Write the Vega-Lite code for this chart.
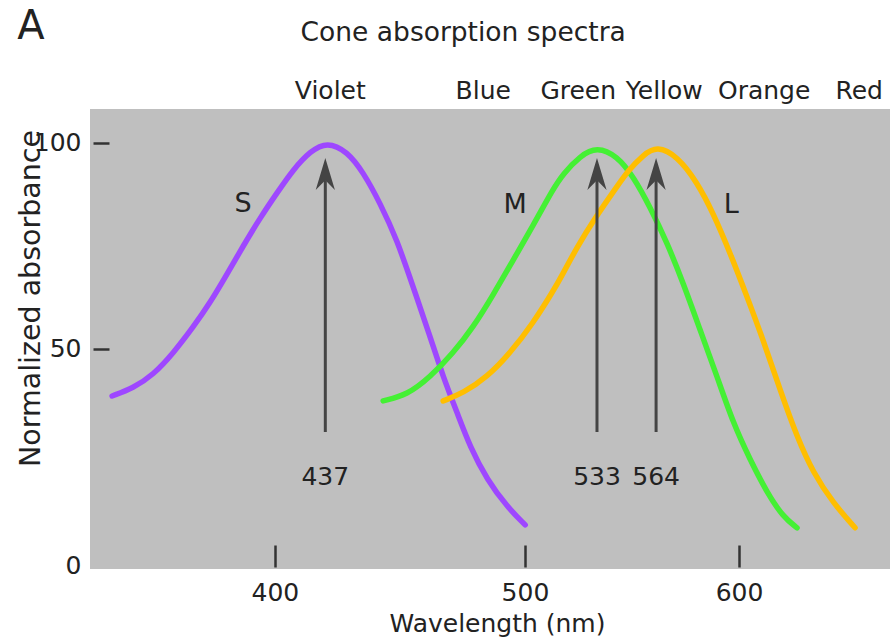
{
  "$schema": "https://vega.github.io/schema/vega-lite/v6.json",
  "width": 800,
  "height": 460,
  "autosize": {"type": "none"},
  "padding": {"left": 90, "top": 109, "right": 0, "bottom": 72},
  "background": "white",
  "config": {
    "font": "DejaVu Sans",
    "view": {"fill": "#bfbfbf", "stroke": null}
  },
  "datasets": {
    "curves": [
      {"cone": "S", "wl": 343.7, "abs": 38.6},
      {"cone": "S", "wl": 350.6, "abs": 40.5},
      {"cone": "S", "wl": 357.3, "abs": 43.7},
      {"cone": "S", "wl": 364.1, "abs": 49.0},
      {"cone": "S", "wl": 370.9, "abs": 55.3},
      {"cone": "S", "wl": 376.8, "abs": 61.2},
      {"cone": "S", "wl": 382.8, "abs": 68.2},
      {"cone": "S", "wl": 388.5, "abs": 75.0},
      {"cone": "S", "wl": 394.6, "abs": 81.8},
      {"cone": "S", "wl": 400.9, "abs": 88.0},
      {"cone": "S", "wl": 406.7, "abs": 93.5},
      {"cone": "S", "wl": 413.1, "abs": 98.0},
      {"cone": "S", "wl": 419.5, "abs": 100.3},
      {"cone": "S", "wl": 427.1, "abs": 98.0},
      {"cone": "S", "wl": 433.4, "abs": 92.9},
      {"cone": "S", "wl": 440.0, "abs": 85.4},
      {"cone": "S", "wl": 446.7, "abs": 76.5},
      {"cone": "S", "wl": 453.2, "abs": 65.0},
      {"cone": "S", "wl": 460.1, "abs": 52.9},
      {"cone": "S", "wl": 465.4, "abs": 43.2},
      {"cone": "S", "wl": 471.2, "abs": 34.5},
      {"cone": "S", "wl": 476.6, "abs": 26.2},
      {"cone": "S", "wl": 483.8, "abs": 18.2},
      {"cone": "S", "wl": 492.3, "abs": 11.7},
      {"cone": "S", "wl": 500.1, "abs": 7.3},
      {"cone": "M", "wl": 441.2, "abs": 37.4},
      {"cone": "M", "wl": 450.7, "abs": 38.8},
      {"cone": "M", "wl": 460.1, "abs": 43.2},
      {"cone": "M", "wl": 469.5, "abs": 49.0},
      {"cone": "M", "wl": 477.9, "abs": 55.3},
      {"cone": "M", "wl": 486.3, "abs": 63.1},
      {"cone": "M", "wl": 494.9, "abs": 71.6},
      {"cone": "M", "wl": 503.6, "abs": 80.0},
      {"cone": "M", "wl": 512.3, "abs": 88.8},
      {"cone": "M", "wl": 516.8, "abs": 92.5},
      {"cone": "M", "wl": 524.5, "abs": 96.9},
      {"cone": "M", "wl": 532.1, "abs": 99.1},
      {"cone": "M", "wl": 541.4, "abs": 96.8},
      {"cone": "M", "wl": 548.8, "abs": 91.9},
      {"cone": "M", "wl": 556.7, "abs": 84.5},
      {"cone": "M", "wl": 564.9, "abs": 75.7},
      {"cone": "M", "wl": 572.6, "abs": 66.0},
      {"cone": "M", "wl": 580.8, "abs": 54.6},
      {"cone": "M", "wl": 589.2, "abs": 43.2},
      {"cone": "M", "wl": 597.1, "abs": 32.0},
      {"cone": "M", "wl": 605.6, "abs": 23.1},
      {"cone": "M", "wl": 614.3, "abs": 15.0},
      {"cone": "M", "wl": 622.5, "abs": 9.2},
      {"cone": "M", "wl": 629.6, "abs": 6.6},
      {"cone": "L", "wl": 465.4, "abs": 37.4},
      {"cone": "L", "wl": 473.7, "abs": 39.3},
      {"cone": "L", "wl": 483.8, "abs": 43.2},
      {"cone": "L", "wl": 493.6, "abs": 49.0},
      {"cone": "L", "wl": 503.6, "abs": 56.3},
      {"cone": "L", "wl": 512.3, "abs": 64.0},
      {"cone": "L", "wl": 515.5, "abs": 67.0},
      {"cone": "L", "wl": 523.1, "abs": 74.8},
      {"cone": "L", "wl": 531.2, "abs": 81.8},
      {"cone": "L", "wl": 541.4, "abs": 89.5},
      {"cone": "L", "wl": 546.5, "abs": 93.3},
      {"cone": "L", "wl": 553.5, "abs": 97.1},
      {"cone": "L", "wl": 560.1, "abs": 99.3},
      {"cone": "L", "wl": 569.7, "abs": 96.8},
      {"cone": "L", "wl": 579.3, "abs": 90.5},
      {"cone": "L", "wl": 587.2, "abs": 83.0},
      {"cone": "L", "wl": 595.6, "abs": 73.3},
      {"cone": "L", "wl": 604.1, "abs": 62.6},
      {"cone": "L", "wl": 612.2, "abs": 52.2},
      {"cone": "L", "wl": 620.9, "abs": 40.0},
      {"cone": "L", "wl": 629.6, "abs": 28.6},
      {"cone": "L", "wl": 638.1, "abs": 19.9},
      {"cone": "L", "wl": 648.6, "abs": 12.6},
      {"cone": "L", "wl": 660.3, "abs": 6.6}
    ],
    "peaks": [
      {"cone": "S", "wl": 418.8, "label": "437"},
      {"cone": "M", "wl": 532.1, "label": "533"},
      {"cone": "L", "wl": 559.6, "label": "564"}
    ],
    "coneLabels": [
      {"cone": "S", "wl": 388.5, "abs": 85.2},
      {"cone": "M", "wl": 495.8, "abs": 85.0},
      {"cone": "L", "wl": 596.1, "abs": 85.0}
    ],
    "bands": [
      {"name": "Violet", "wl": 420.7},
      {"name": "Blue", "wl": 482.1},
      {"name": "Green", "wl": 523.6},
      {"name": "Yellow", "wl": 563.5},
      {"name": "Orange", "wl": 612.7},
      {"name": "Red", "wl": 662.5}
    ],
    "headings": [
      {"text": "A", "wl": 318.0, "abs": 128.2, "kind": "panel"},
      {"text": "Cone absorption spectra", "wl": 473.7, "abs": 126.7, "kind": "title"}
    ]
  },
  "layer": [
    {
      "data": {"name": "curves"},
      "mark": {"type": "line", "strokeWidth": 5.5, "strokeCap": "round", "strokeJoin": "round", "interpolate": "basis"},
      "encoding": {
        "x": {
          "field": "wl",
          "type": "quantitative",
          "scale": {"type": "pow", "exponent": 0.23, "domain": [336.56, 679.33], "nice": false, "zero": false},
          "axis": {
            "values": [400, 500, 600],
            "title": "Wavelength (nm)",
            "titleFontSize": 25,
            "titleFontWeight": "normal",
            "titleColor": "#222222",
            "titleX": 407,
            "titleY": 64,
            "titleBaseline": "alphabetic",
            "titleAlign": "center",
            "titleAnchor": null,
            "domain": false,
            "grid": false,
            "offset": -2,
            "tickSize": -22,
            "tickWidth": 2.5,
            "tickColor": "#333333",
            "labelFontSize": 25,
            "labelColor": "#222222",
            "labelPadding": 55,
            "labelBaseline": "alphabetic"
          }
        },
        "y": {
          "field": "abs",
          "type": "quantitative",
          "scale": {"domain": [-3.4, 108.25], "nice": false, "zero": false},
          "axis": {
            "values": [0, 50, 100],
            "title": "Normalized absorbance",
            "titleFontSize": 28.5,
            "titleFontWeight": "normal",
            "titleColor": "#222222",
            "titleAngle": -90,
            "titleX": -54,
            "titleY": 189,
            "titleAlign": "center",
            "titleBaseline": "alphabetic",
            "titleAnchor": null,
            "domain": false,
            "grid": false,
            "offset": -3,
            "tickSize": -16,
            "tickWidth": 2.5,
            "tickColor": "#333333",
            "tickOpacity": {"condition": {"test": "datum.value === 0", "value": 0}, "value": 1},
            "labelOffset": {"condition": {"test": "datum.value === 0", "value": 11}, "value": 0},
            "labelFontSize": 25,
            "labelColor": "#222222",
            "labelPadding": 28
          }
        },
        "color": {
          "field": "cone",
          "type": "nominal",
          "scale": {"domain": ["S", "M", "L"], "range": ["#9e47ff", "#44f034", "#ffbe00"]},
          "legend": null
        }
      }
    },
    {
      "data": {"name": "peaks"},
      "mark": {"type": "rule", "strokeWidth": 3, "color": "#444444"},
      "encoding": {
        "x": {"field": "wl", "type": "quantitative"},
        "y": {"datum": 29.85},
        "y2": {"datum": 91.0}
      }
    },
    {
      "data": {"name": "peaks"},
      "mark": {"type": "point", "shape": "M0,-1L0.6,1L0,0.4L-0.6,1Z", "size": 1024, "filled": true, "opacity": 1, "color": "#444444", "strokeWidth": 0},
      "encoding": {
        "x": {"field": "wl", "type": "quantitative"},
        "y": {"datum": 92.5}
      }
    },
    {
      "data": {"name": "peaks"},
      "mark": {"type": "text", "fontSize": 25, "color": "#222222", "baseline": "middle", "align": "center"},
      "encoding": {
        "x": {"field": "wl", "type": "quantitative"},
        "y": {"datum": 18.9},
        "text": {"field": "label"}
      }
    },
    {
      "data": {"name": "coneLabels"},
      "mark": {"type": "text", "fontSize": 27, "color": "#222222", "baseline": "middle", "align": "center"},
      "encoding": {
        "x": {"field": "wl", "type": "quantitative"},
        "y": {"field": "abs", "type": "quantitative"},
        "text": {"field": "cone"}
      }
    },
    {
      "data": {"name": "bands"},
      "mark": {"type": "text", "fontSize": 25, "color": "#222222", "baseline": "middle", "align": "center"},
      "encoding": {
        "x": {"field": "wl", "type": "quantitative"},
        "y": {"datum": 112.6},
        "text": {"field": "name"}
      }
    },
    {
      "data": {"name": "headings"},
      "mark": {"type": "text", "color": "#222222", "baseline": "middle", "align": "center"},
      "encoding": {
        "x": {"field": "wl", "type": "quantitative"},
        "y": {"field": "abs", "type": "quantitative"},
        "text": {"field": "text"},
        "size": {
          "field": "kind",
          "type": "nominal",
          "scale": {"domain": ["panel", "title"], "range": [40, 26.5]},
          "legend": null
        }
      }
    }
  ]
}
